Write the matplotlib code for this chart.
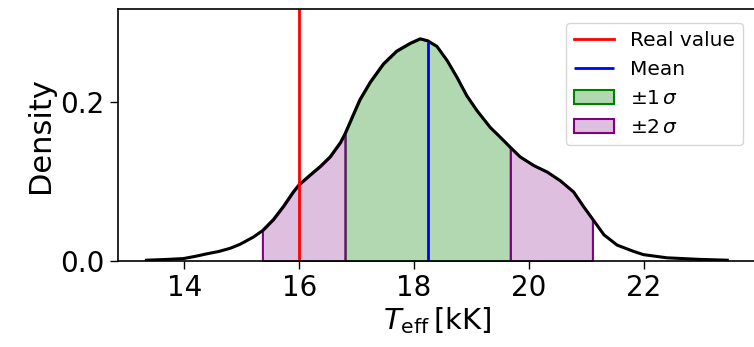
import numpy as np
import matplotlib
matplotlib.use("Agg")
import matplotlib.pyplot as plt
from matplotlib.colors import to_rgba

# KDE curve (T_eff in kK, density)
teff = [13.34, 13.70, 13.98, 14.20, 14.39, 14.60, 14.80, 14.97, 15.20, 15.36,
        15.55, 15.73, 15.90, 16.00, 16.19, 16.37, 16.54, 16.72, 16.80, 16.95,
        17.06, 17.24, 17.47, 17.70, 17.94, 18.11, 18.24, 18.40, 18.58, 18.75,
        18.92, 19.10, 19.33, 19.50, 19.68, 19.85, 20.09, 20.32, 20.55, 20.78,
        20.96, 21.11, 21.31, 21.54, 21.83, 22.00, 22.41, 22.99, 23.46]
density = [0.001, 0.002, 0.003, 0.006, 0.009, 0.012, 0.016, 0.021, 0.030, 0.038,
           0.052, 0.069, 0.087, 0.096, 0.108, 0.119, 0.131, 0.149, 0.160, 0.185,
           0.203, 0.225, 0.248, 0.264, 0.274, 0.2795, 0.277, 0.270, 0.252, 0.231,
           0.208, 0.189, 0.168, 0.156, 0.143, 0.131, 0.120, 0.112, 0.101, 0.087,
           0.068, 0.053, 0.033, 0.020, 0.012, 0.008, 0.004, 0.002, 0.001]

real_value = 16.0
mean = 18.24
sigma = 1.44

x = np.array(teff)
y = np.array(density)

fig = plt.figure(figsize=(7.54, 3.47), dpi=100)
ax = fig.add_axes([118 / 754, 86 / 347, 638 / 754, 252 / 347])

lo1, hi1 = mean - sigma, mean + sigma
lo2, hi2 = mean - 2 * sigma, mean + 2 * sigma
eps = 0.02

m1 = (x >= lo1 - eps) & (x <= hi1 + eps)
ax.fill_between(x[m1], 0, y[m1], facecolor=to_rgba('green', 0.3),
                edgecolor='green', linewidth=1.5, label=r'$\pm1\,\sigma$')
m2l = (x >= lo2 - eps) & (x <= lo1 + eps)
m2r = (x >= hi1 - eps) & (x <= hi2 + eps)
ax.fill_between(x[m2l], 0, y[m2l], facecolor=to_rgba('purple', 0.25),
                edgecolor='purple', linewidth=1.5, label=r'$\pm2\,\sigma$')
ax.fill_between(x[m2r], 0, y[m2r], facecolor=to_rgba('purple', 0.25),
                edgecolor='purple', linewidth=1.5)

ax.plot(x, y, color='black', lw=2.2, solid_joinstyle='round')
ax.axvline(real_value, color='red', lw=2, label='Real value')
ax.vlines(mean, 0, np.interp(mean, x, y), color='blue', lw=2, label='Mean')

ax.set_xlim(12.844, 23.96)
ax.set_ylim(0, 0.317)
ax.set_xticks([14, 16, 18, 20, 22])
ax.set_yticks([0.0, 0.2])
ax.set_yticklabels(['0.0', '0.2'])
ax.tick_params(labelsize=20, length=6, width=1)
for s in ax.spines.values():
    s.set_linewidth(1.2)

ax.set_xlabel(r'$T_{\mathrm{eff}}\,[\mathrm{kK}]$', fontsize=21, labelpad=2)
ax.set_ylabel('Density', fontsize=22, labelpad=4)

h, l = ax.get_legend_handles_labels()
order = [l.index('Real value'), l.index('Mean'), l.index(r'$\pm1\,\sigma$'), l.index(r'$\pm2\,\sigma$')]
ax.legend([h[i] for i in order], [l[i] for i in order], loc='upper right',
          bbox_to_anchor=(743 / 754, 1 - 23 / 347), bbox_transform=fig.transFigure,
          borderaxespad=0, fontsize=14.5)

fig.savefig('out.png', dpi=100)
